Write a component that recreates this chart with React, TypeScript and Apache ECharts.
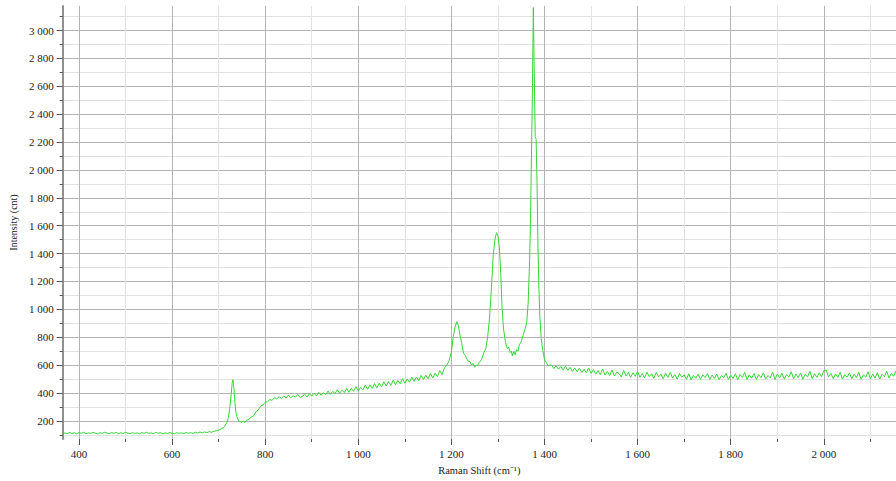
import React, { useEffect, useRef } from "react";
import * as echarts from "echarts";

// Raman shift (cm^-1) and intensity (cnt)
const baseShift = [365, 370, 375, 380, 385, 390, 395, 400, 405, 410, 415, 420, 425, 430, 435, 440, 445, 450, 455, 460, 465, 470, 475, 480, 485, 490, 495, 500, 505, 510, 515, 520, 525, 530, 535, 540, 545, 550, 555, 560, 565, 570, 575, 580, 585, 590, 595, 600, 605, 610, 615, 620, 625, 630, 635, 640, 645, 650, 655, 660, 665, 670, 675, 680, 685, 690];
const baseInt = [106, 113, 109, 117, 110, 114, 107, 116, 111, 118, 108, 114, 110, 117, 112, 107, 115, 110, 118, 113, 108, 116, 111, 117, 107, 114, 110, 118, 112, 108, 115, 110, 114, 107, 116, 111, 118, 110, 114, 108, 117, 111, 115, 107, 114, 110, 116, 111, 108, 115, 110, 114, 108, 116, 111, 115, 110, 118, 113, 120, 114, 121, 116, 123, 118, 126];

const bandShift = [695, 700, 705, 710, 714, 718, 721, 724, 727, 729, 731, 733, 735, 737, 740, 743, 746, 750, 753, 756, 760, 765, 770, 775, 780, 785, 790, 795, 800];
const bandInt = [128, 132, 142, 150, 167, 190, 225, 290, 390, 470, 495, 430, 330, 265, 222, 200, 195, 190, 201, 188, 205, 210, 228, 236, 265, 278, 305, 314, 333];

const rampShift = [805, 810, 815, 820, 825, 830, 835, 840, 845, 850, 855, 860, 865, 870, 875, 880, 885, 890, 895, 900, 905, 910, 915, 920, 925, 930, 935, 940, 945, 950, 955, 960, 965, 970, 975, 980, 985, 990, 995, 1000, 1005, 1010, 1015, 1020, 1025, 1030, 1035, 1040, 1045, 1050, 1055, 1060, 1065, 1070, 1075, 1080, 1085, 1090, 1095, 1100, 1105, 1110, 1115, 1120, 1125, 1130, 1135, 1140, 1145, 1150, 1155, 1160, 1165, 1170, 1175, 1180, 1185];
const rampInt = [338, 352, 348, 366, 358, 374, 360, 379, 364, 384, 366, 380, 370, 390, 368, 376, 392, 371, 395, 378, 399, 380, 405, 384, 402, 388, 414, 390, 412, 396, 424, 398, 420, 403, 432, 405, 434, 411, 445, 416, 440, 422, 456, 426, 458, 433, 468, 437, 470, 444, 480, 450, 482, 455, 492, 460, 490, 466, 503, 470, 500, 478, 514, 483, 515, 489, 526, 496, 528, 502, 540, 508, 542, 518, 560, 532, 580];

const peakShift = [1190, 1195, 1200, 1204, 1208, 1212, 1215, 1218, 1222, 1226, 1230, 1235, 1240, 1243, 1246, 1250, 1253, 1256, 1260, 1265, 1270, 1274, 1278, 1282, 1286, 1290, 1294, 1297, 1300, 1303, 1306, 1309, 1312, 1316, 1320, 1323, 1326, 1329, 1331, 1334, 1337, 1340, 1343, 1346, 1350, 1354, 1358, 1362, 1365, 1368, 1370, 1372, 1374, 1376, 1378, 1380, 1382, 1384, 1386, 1388, 1390, 1393, 1396, 1400, 1404, 1408, 1410];
const peakInt = [598, 632, 695, 805, 875, 912, 885, 822, 760, 685, 668, 632, 625, 600, 612, 585, 600, 596, 620, 642, 690, 718, 805, 945, 1155, 1395, 1510, 1550, 1525, 1450, 1255, 1005, 858, 768, 718, 730, 690, 700, 665, 698, 675, 712, 700, 745, 768, 815, 855, 910, 1050, 1350, 1650, 2100, 2550, 3165, 2700, 2240, 2220, 1900, 1450, 1150, 950, 790, 712, 640, 618, 592, 600];

const tailShift = [1415, 1420, 1425, 1430, 1435, 1440, 1445, 1450, 1455, 1460, 1465, 1470, 1475, 1480, 1485, 1490, 1495, 1500, 1505, 1510, 1515, 1520, 1525, 1530, 1535, 1540, 1545, 1550, 1555, 1560, 1565, 1570, 1575, 1580, 1585, 1590, 1595, 1600, 1605, 1610, 1615, 1620, 1625, 1630, 1635, 1640, 1645, 1650, 1655, 1660, 1665, 1670, 1675, 1680, 1685, 1690, 1695, 1700, 1705, 1710, 1715, 1720, 1725, 1730, 1735, 1740, 1745, 1750, 1755, 1760, 1765, 1770, 1775, 1780, 1785, 1790, 1795, 1800, 1805, 1810, 1815, 1820, 1825, 1830, 1835, 1840, 1845, 1850, 1855, 1860, 1865, 1870, 1875, 1880, 1885, 1890, 1895, 1900, 1905, 1910, 1915, 1920, 1925, 1930, 1935, 1940, 1945, 1950, 1955, 1960, 1965, 1970, 1975, 1980, 1985, 1990, 1995, 2000, 2005, 2010, 2015, 2020, 2025, 2030, 2035, 2040, 2045, 2050, 2055, 2060, 2065, 2070, 2075, 2080, 2085, 2090, 2095, 2100, 2105, 2110, 2115, 2120, 2125, 2130, 2135, 2140, 2145, 2150, 2155];
const tailInt = [600, 575, 595, 570, 590, 565, 592, 562, 584, 555, 580, 552, 578, 548, 570, 545, 580, 540, 568, 535, 562, 532, 572, 528, 555, 525, 565, 522, 550, 540, 515, 562, 522, 548, 512, 545, 520, 555, 512, 540, 508, 550, 518, 538, 505, 548, 515, 535, 502, 542, 512, 548, 508, 532, 500, 540, 514, 530, 498, 538, 495, 525, 505, 536, 498, 530, 510, 540, 498, 528, 505, 535, 495, 525, 510, 540, 497, 528, 505, 538, 494, 532, 512, 548, 496, 530, 506, 540, 498, 532, 510, 545, 500, 526, 508, 550, 496, 536, 508, 542, 500, 532, 514, 552, 502, 536, 510, 544, 498, 534, 515, 556, 503, 538, 512, 545, 518, 560, 565, 515, 540, 504, 536, 512, 548, 500, 532, 514, 544, 502, 535, 510, 548, 498, 530, 514, 552, 502, 536, 508, 546, 500, 534, 516, 556, 508, 540, 520, 560];

// Axis ticks
const xMajorTicks = [400, 600, 800, 1000, 1200, 1400, 1600, 1800, 2000];
const xMinorTicks = [500, 700, 900, 1100, 1300, 1500, 1700, 1900, 2100];
const yMajorTicks = [200, 400, 600, 800, 1000, 1200, 1400, 1600, 1800, 2000, 2200, 2400, 2600, 2800, 3000];
const yMinorTicks = [100, 300, 500, 700, 900, 1100, 1300, 1500, 1700, 1900, 2100, 2300, 2500, 2700, 2900, 3100];

const X_MIN = 365;
const X_MAX = 2155;
const Y_MIN = 70;
const Y_MAX = 3176;

const fmt = (v: number) => {
  if (v >= 1000) {
    const th = Math.floor(v / 1000);
    const rest = String(v % 1000).padStart(3, "0");
    return `${th} ${rest}`;
  }
  return String(v);
};

const FONT = "'Liberation Serif', 'Times New Roman', serif";

export default function App() {
  const ref = useRef<HTMLDivElement>(null);

  useEffect(() => {
    if (!ref.current) return;
    const chart = echarts.init(ref.current, undefined, { renderer: "svg" });

    const shifts = [...baseShift, ...bandShift, ...rampShift, ...peakShift, ...tailShift];
    const ints = [...baseInt, ...bandInt, ...rampInt, ...peakInt, ...tailInt];
    const data = shifts.map((s, i) => [s, ints[i]]);

    const tickColor = "#555555";

    chart.setOption({
      animation: false,
      backgroundColor: "#ffffff",
      grid: { left: 62, right: 0, top: 6, bottom: 34, containLabel: false },
      xAxis: [
        {
          type: "value",
          position: "bottom",
          min: X_MIN,
          max: X_MAX,
          axisLine: { show: false, onZero: false },
          axisTick: { show: true, customValues: xMajorTicks, length: 6, lineStyle: { color: tickColor } },
          axisLabel: {
            customValues: xMajorTicks,
            formatter: fmt,
            margin: 9,
            color: "#222222",
            fontFamily: FONT,
            fontSize: 11,
          },
          splitLine: { show: true, lineStyle: { color: "#b3b3b3", width: 1 } },
          name: "Raman Shift (cm⁻¹)",
          nameLocation: "middle",
          nameGap: 26,
          nameTextStyle: { color: "#222222", fontFamily: FONT, fontSize: 10.5 },
        },
        {
          type: "value",
          position: "bottom",
          min: X_MIN,
          max: X_MAX,
          axisLine: { show: false, onZero: false },
          axisTick: { show: true, customValues: xMinorTicks, length: 3, lineStyle: { color: tickColor } },
          axisLabel: { show: false, customValues: xMinorTicks },
          splitLine: { show: true, lineStyle: { color: "#e2e2e2", width: 1 } },
        },
      ],
      yAxis: [
        {
          type: "value",
          position: "left",
          min: Y_MIN,
          max: Y_MAX,
          axisLine: { show: true, onZero: false, lineStyle: { color: "#8f8f8f", width: 2 } },
          axisTick: { show: true, customValues: yMajorTicks, length: 6, lineStyle: { color: tickColor } },
          axisLabel: {
            customValues: yMajorTicks,
            formatter: fmt,
            margin: 9,
            color: "#222222",
            fontFamily: FONT,
            fontSize: 11,
          },
          splitLine: { show: true, lineStyle: { color: "#b3b3b3", width: 1 } },
          name: "Intensity (cnt)",
          nameLocation: "middle",
          nameGap: 41,
          nameTextStyle: { color: "#222222", fontFamily: FONT, fontSize: 10 },
        },
        {
          type: "value",
          position: "left",
          min: Y_MIN,
          max: Y_MAX,
          axisLine: { show: false, onZero: false },
          axisTick: { show: true, customValues: yMinorTicks, length: 3, lineStyle: { color: tickColor } },
          axisLabel: { show: false, customValues: yMinorTicks },
          splitLine: { show: true, lineStyle: { color: "#e2e2e2", width: 1 } },
        },
      ],
      series: [
        {
          type: "line",
          xAxisIndex: 0,
          yAxisIndex: 0,
          data,
          showSymbol: false,
          symbol: "none",
          lineStyle: { color: "#36d636", width: 1 },
          z: 5,
        },
      ],
    });

    return () => chart.dispose();
  }, []);

  return (
    <div
      ref={ref}
      style={{ position: "fixed", left: 0, top: 0, width: 896, height: 481, background: "#fff" }}
    />
  );
}
